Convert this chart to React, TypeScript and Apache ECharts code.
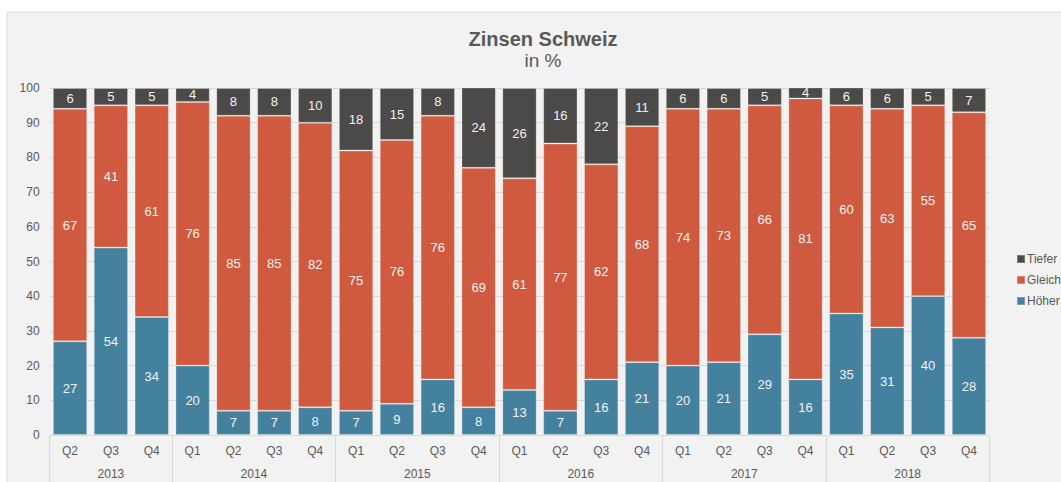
import React, { useEffect, useRef } from "react";
import * as echarts from "echarts";

const quarters = [
  "Q2", "Q3", "Q4",
  "Q1", "Q2", "Q3", "Q4",
  "Q1", "Q2", "Q3", "Q4",
  "Q1", "Q2", "Q3", "Q4",
  "Q1", "Q2", "Q3", "Q4",
  "Q1", "Q2", "Q3", "Q4",
];
const years = ["2013", "2014", "2015", "2016", "2017", "2018"];
const quartersPerYear = [3, 4, 4, 4, 4, 4];

const hoeher = [27, 54, 34, 20, 7, 7, 8, 7, 9, 16, 8, 13, 7, 16, 21, 20, 21, 29, 16, 35, 31, 40, 28];
const gleich = [67, 41, 61, 76, 85, 85, 82, 75, 76, 76, 69, 61, 77, 62, 68, 74, 73, 66, 81, 60, 63, 55, 65];
const tiefer = [6, 5, 5, 4, 8, 8, 10, 18, 15, 8, 24, 26, 16, 22, 11, 6, 6, 5, 4, 6, 6, 5, 7];

const COLORS = { tiefer: "#4b4a48", gleich: "#d05a3f", hoeher: "#44819f" };

export default function App() {
  const ref = useRef<HTMLDivElement>(null);
  useEffect(() => {
    if (!ref.current) return;
    const chart = echarts.init(ref.current, undefined, { renderer: "svg" });

    const totalHalf = quartersPerYear.reduce((a, b) => a + b, 0) * 2;
    const yearCats: string[] = new Array(totalHalf + 1).fill("");
    const boundaries = new Set<number>([0]);
    let acc = 0;
    years.forEach((y, i) => {
      const n = quartersPerYear[i] * 2;
      yearCats[acc + n / 2] = y;
      acc += n;
      boundaries.add(acc);
    });

    const labelStyle = {
      show: true,
      color: "#f2f2f2",
      fontSize: 13,
      fontFamily: "Liberation Sans, Arial, sans-serif",
    };
    const mk = (name: string, data: number[], color: string) => ({
      name,
      type: "bar",
      stack: "total",
      data,
      barCategoryGap: "16%",
      itemStyle: { color, borderColor: "rgba(255,255,255,0.25)", borderWidth: 1 },
      label: labelStyle,
    });

    chart.setOption({
      animation: false,
      textStyle: { fontFamily: "Liberation Sans, Arial, sans-serif" },
      graphic: [
        {
          type: "rect",
          z: -10,
          silent: true,
          shape: { x: 7, y: 12, width: 1100, height: 500 },
          style: { fill: "#f2f2f2", stroke: "#dcdcdc", lineWidth: 1 },
        },
      ],
      title: {
        text: "Zinsen Schweiz",
        subtext: "in %",
        left: 538,
        textAlign: "center",
        top: 24,
        itemGap: 2,
        textStyle: { fontSize: 20, fontWeight: "bold", color: "#595959" },
        subtextStyle: { fontSize: 19, color: "#595959" },
      },
      legend: {
        orient: "vertical",
        left: 1011,
        top: 248,
        itemWidth: 8,
        itemHeight: 8,
        itemGap: 9,
        icon: "rect",
        data: ["Tiefer", "Gleich", "Höher"],
        textStyle: { color: "#595959", fontSize: 12, padding: [0, 0, 0, -3] },
      },
      grid: { left: 49.6, right: 71.6, top: 88, bottom: 47, containLabel: false },
      xAxis: [
        {
          type: "category",
          data: quarters,
          position: "bottom",
          axisLine: { show: true, lineStyle: { color: "#d9d9d9" } },
          axisTick: { show: false },
          axisLabel: { color: "#595959", fontSize: 12, margin: 10, interval: 0 },
        },
        {
          type: "category",
          data: yearCats,
          boundaryGap: false,
          position: "bottom",
          axisLine: { show: false },
          axisTick: {
            show: true,
            inside: false,
            length: 50,
            interval: (idx: number) => boundaries.has(idx),
            lineStyle: { color: "#d9d9d9" },
          },
          axisLabel: {
            color: "#595959",
            fontSize: 12,
            margin: 33,
            interval: 0,
            showMinLabel: true,
            showMaxLabel: true,
          },
        },
      ],
      yAxis: {
        type: "value",
        min: 0,
        max: 100,
        interval: 10,
        axisLine: { show: false },
        axisTick: { show: false },
        axisLabel: { color: "#595959", fontSize: 12, margin: 10 },
        splitLine: { lineStyle: { color: "#d9d9d9" } },
      },
      series: [
        mk("Höher", hoeher, COLORS.hoeher),
        mk("Gleich", gleich, COLORS.gleich),
        mk("Tiefer", tiefer, COLORS.tiefer),
      ],
    });
    return () => chart.dispose();
  }, []);
  return (
    <div
      ref={ref}
      style={{ position: "absolute", left: 0, top: 0, width: 1061, height: 482 }}
    />
  );
}
